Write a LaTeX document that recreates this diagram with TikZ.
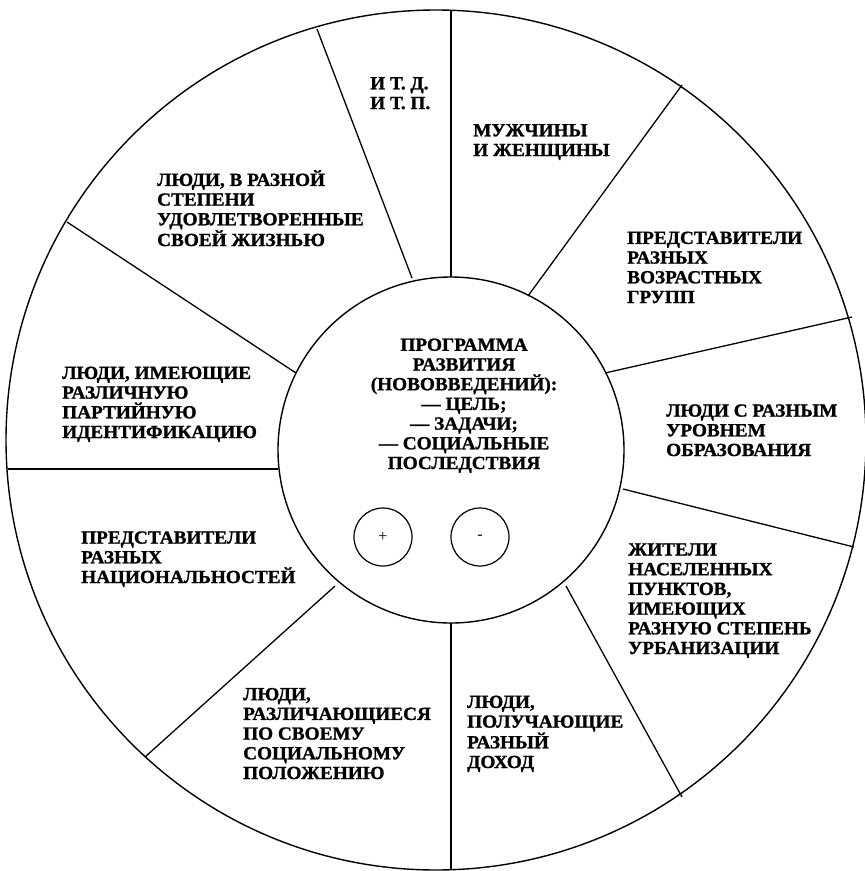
\documentclass[tikz,border=0pt]{standalone}
\usepackage{fontspec}
\setmainfont{Liberation Serif}[BoldFont={Liberation Serif Bold},BoldFeatures={FakeBold=1.2,FakeStretch=1.04}]
\begin{document}
\begin{tikzpicture}[x=1pt,y=-1pt,
  lbl/.style={anchor=base west,align=left,inner sep=0pt,font=\fontsize{18.5}{19.7}\selectfont\bfseries},
  ctr/.style={anchor=base,align=center,inner sep=0pt,font=\fontsize{18.5}{19.7}\selectfont\bfseries},
  ring/.style={line width=1.4pt},
  spoke/.style={line width=1.3pt},
  sign/.style={circle,draw,line width=1.2pt,minimum size=58pt,inner sep=0pt,font=\fontsize{16}{16}\selectfont}]
\useasboundingbox (0,0) rectangle (865,871);
\fill[white] (0,0) rectangle (865,871);
% circles
\coordinate (oc) at (436,440);
\coordinate (ic) at (451,450);
\draw[ring] (oc) circle[radius=430pt];
\draw[ring] (ic) circle[radius=173pt];
% spoke end points
\coordinate (o1) at (451,10);   \coordinate (i1) at (451,277);
\coordinate (o2) at (317,29);   \coordinate (i2) at (412,278);
\coordinate (o3) at (682,85);   \coordinate (i3) at (528,296);
\coordinate (o4) at (852,317);  \coordinate (i4) at (605,373);
\coordinate (o5) at (854,547);  \coordinate (i5) at (623,489);
\coordinate (o6) at (682,797);  \coordinate (i6) at (566,586);
\coordinate (o7) at (451,870);  \coordinate (i7) at (451,623);
\coordinate (o8) at (145,757);  \coordinate (i8) at (335,586);
\coordinate (o9) at (8,469);    \coordinate (i9) at (278,469);
\coordinate (o10) at (67,222);  \coordinate (i10) at (296,373);
\foreach \k in {1,...,10} \draw[spoke] (o\k) -- (i\k);
% labels (anchored at the baseline of the last line)
\node[lbl] (itd) at (370,109) {И Т. Д.\\И Т. П.};
\node[lbl] (mw) at (473,156) {МУЖЧИНЫ\\И ЖЕНЩИНЫ};
\node[lbl] (sat) at (157,246) {ЛЮДИ, В РАЗНОЙ\\СТЕПЕНИ\\УДОВЛЕТВОРЕННЫЕ\\СВОЕЙ ЖИЗНЬЮ};
\node[lbl] (age) at (627,303) {ПРЕДСТАВИТЕЛИ\\РАЗНЫХ\\ВОЗРАСТНЫХ\\ГРУПП};
\node[lbl] (party) at (62,438) {ЛЮДИ, ИМЕЮЩИЕ\\РАЗЛИЧНУЮ\\ПАРТИЙНУЮ\\ИДЕНТИФИКАЦИЮ};
\node[lbl] (edu) at (666,456) {ЛЮДИ С РАЗНЫМ\\УРОВНЕМ\\ОБРАЗОВАНИЯ};
\node[lbl] (nat) at (81,583) {ПРЕДСТАВИТЕЛИ\\РАЗНЫХ\\НАЦИОНАЛЬНОСТЕЙ};
\node[lbl] (urb) at (628,654) {ЖИТЕЛИ\\НАСЕЛЕННЫХ\\ПУНКТОВ,\\ИМЕЮЩИХ\\РАЗНУЮ СТЕПЕНЬ\\УРБАНИЗАЦИИ};
\node[lbl] (soc) at (243,779) {ЛЮДИ,\\РАЗЛИЧАЮЩИЕСЯ\\ПО СВОЕМУ\\СОЦИАЛЬНОМУ\\ПОЛОЖЕНИЮ};
\node[lbl] (inc) at (467,768) {ЛЮДИ,\\ПОЛУЧАЮЩИЕ\\РАЗНЫЙ\\ДОХОД};
\node[ctr] (prog) at (464,469) {ПРОГРАММА\\РАЗВИТИЯ\\(НОВОВВЕДЕНИЙ):\\— ЦЕЛЬ;\\— ЗАДАЧИ;\\— СОЦИАЛЬНЫЕ\\ПОСЛЕДСТВИЯ};
\node[sign] (plus) at (383,537) {+};
\node[sign] (minus) at (480,537) {-};
\end{tikzpicture}
\end{document}
